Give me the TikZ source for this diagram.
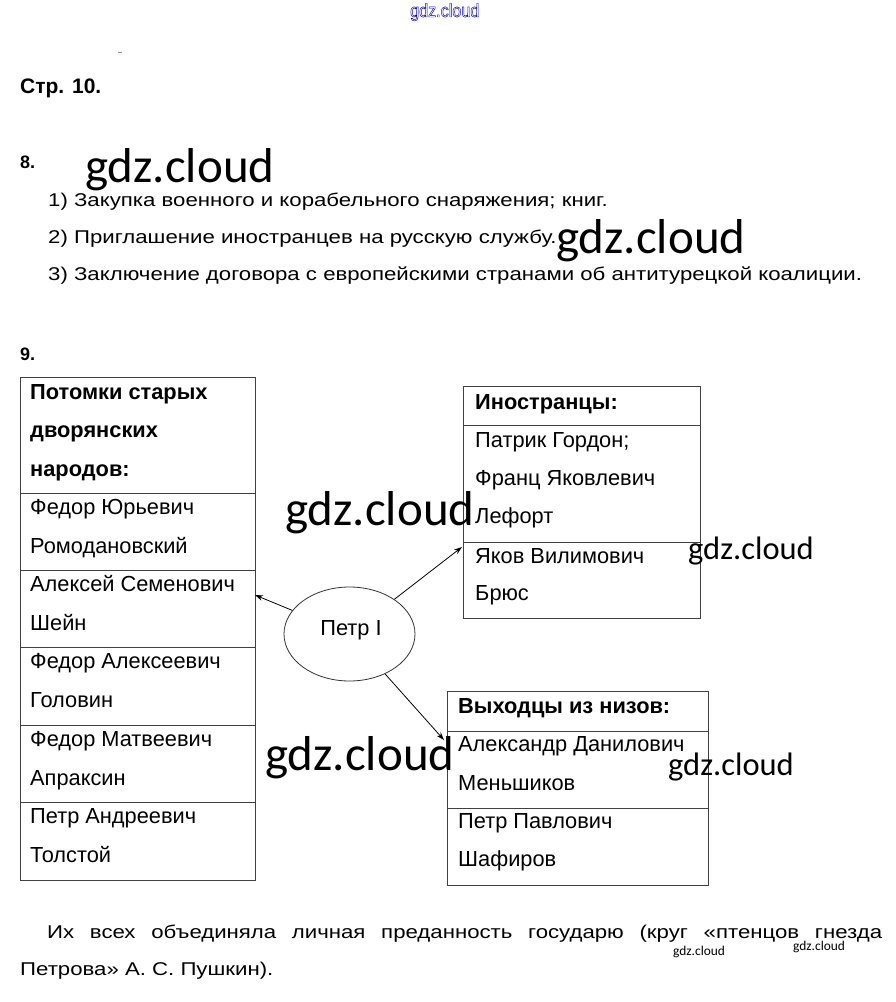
\documentclass[tikz,border=0pt]{standalone}
\usepackage{fontspec}
\setmainfont{Liberation Sans}
\newfontfamily\narrowfont[FakeStretch=1.2]{Liberation Sans}
\newfontfamily\wmfont{Carlito}
\newfontfamily\topfont[FakeStretch=0.85]{Liberation Sans}
\newcommand\outlined[1]{\special{pdf:literal direct 1 Tr 0.45 w}#1\special{pdf:literal direct 0 Tr}}
\usetikzlibrary{arrows.meta,shapes.geometric}

\tikzset{
  cell/.style={draw=black!75, line width=0.8pt, anchor=north west, inner sep=0, outer sep=0},
  entry/.style={anchor=base west, inner sep=0, font=\fontsize{21.8}{24}\selectfont},
  head/.style={entry, font=\fontsize{21.8}{24}\selectfont\bfseries},
  itemline/.style={anchor=base west, inner sep=0, font=\narrowfont\fontsize{18.5}{22}\selectfont},
  wm/.style={anchor=base west, inner sep=0, font=\wmfont\fontsize{#1}{#1}\selectfont},
}

\begin{document}
\begin{tikzpicture}[x=1pt,y=-1pt,>={Stealth[length=8pt,width=5.5pt]}]
\useasboundingbox[fill=white] (0,0) rectangle (895,1002);
% top of the page
\node[anchor=base west, inner sep=0, font=\topfont\fontsize{19}{19}\selectfont, text=blue!70!black] (wtop) at (410,17) {\outlined{gdz.cloud}};
\draw[black!40] (118,52)--(122,52);
\node[head, font=\fontsize{21}{24}\selectfont\bfseries] (str) at (20,93) {Стр. 10.};
% task 8
\node[head, font=\fontsize{18}{20}\selectfont\bfseries] (n8) at (20,168) {8.};
\foreach \y/\t [count=\i] in {206/Закупка военного и корабельного снаряжения; книг.,
  243/Приглашение иностранцев на русскую службу.,
  280/Заключение договора с европейскими странами об антитурецкой коалиции.}
  \node[itemline] (q\i) at (48,\y) {\i) \t};
% task 9
\node[head, font=\fontsize{18}{20}\selectfont\bfseries] (n9) at (20,360) {9.};
% left table
\node[cell, minimum width=235, minimum height=116] (l0) at (20,377) {};
\foreach \t/\h [count=\i] in {493/77,570/77,647/78,725/77,802/78}
  \node[cell, minimum width=235, minimum height=\h] (l\i) at (20,\t) {};
\node[head] (la0) at (30,399) {Потомки старых};
\node[head] (lb0) at (30,437.5) {дворянских};
\node[head] (lc0) at (30,476) {народов:};
\foreach \t/\a/\b [count=\i] in {493/Федор Юрьевич/Ромодановский,
  570/Алексей Семенович/Шейн, 647/Федор Алексеевич/Головин,
  725/Федор Матвеевич/Апраксин, 802/Петр Андреевич/Толстой}{
  \node[entry] (la\i) at (30,\t+21.5) {\a};
  \node[entry] (lb\i) at (30,\t+60) {\b};
}
% foreigners
\node[cell, minimum width=237, minimum height=38.5] (r0) at (463,386.5) {};
\node[cell, minimum width=237, minimum height=117] (r1) at (463,425) {};
\node[cell, minimum width=237, minimum height=76] (r2) at (463,542) {};
\node[head] (ra0) at (475,409) {Иностранцы:};
\node[entry] (ra1) at (475,447) {Патрик Гордон;};
\node[entry] (rb1) at (475,485) {Франц Яковлевич};
\node[entry] (rc1) at (475,523) {Лефорт};
\node[entry] (ra2) at (475,563) {Яков Вилимович};
\node[entry] (rb2) at (475,600) {Брюс};
% from below
\node[cell, minimum width=261, minimum height=39.5] (b0) at (447,691.5) {};
\node[cell, minimum width=261, minimum height=77] (b1) at (447,731) {};
\node[cell, minimum width=261, minimum height=77] (b2) at (447,808) {};
\node[head] (ba0) at (458,713) {Выходцы из низов:};
\node[entry] (ba1) at (458,751.7) {Александр Данилович};
\node[entry] (bb1) at (458,790) {Меньшиков};
\node[entry] (ba2) at (458,828) {Петр Павлович};
\node[entry] (bb2) at (458,866.7) {Шафиров};
% Peter
\node[draw=black!80, line width=0.8pt, ellipse, minimum width=131, minimum height=94, inner sep=0] (petr) at (349.5,634) {};
\node[entry, anchor=base] (petrl) at (351,635) {Петр I};
\coordinate (tl) at (255,595);
\coordinate (tr) at (462,547);
\coordinate (tb) at (444,740);
\draw[->, line width=0.8pt] (petr) -- (tl);
\draw[->, line width=0.8pt] (petr) -- (tr);
\draw[->, line width=0.8pt] (petr) -- (tb);
% closing lines
\node[itemline] (p1) at (47,938) {\makebox[835pt][s]{Их всех объединяла личная преданность государю (круг «птенцов гнезда}};
\node[itemline] (p2) at (20,975) {Петрова» А. С. Пушкин).};
% marks
\node[wm=49] (w1) at (85,182) {gdz.cloud};
\node[wm=49] (w2) at (556,253) {gdz.cloud};
\node[wm=49] (w3) at (285,525) {gdz.cloud};
\node[wm=49] (w4) at (265,770) {gdz.cloud};
\node[wm=32.5] (w5) at (688,559) {gdz.cloud};
\node[wm=32.5] (w6) at (668,775) {gdz.cloud};
\node[wm=13.4] (w7) at (673,955) {gdz.cloud};
\node[wm=13.4] (w8) at (793,950) {gdz.cloud};
\end{tikzpicture}
\end{document}
